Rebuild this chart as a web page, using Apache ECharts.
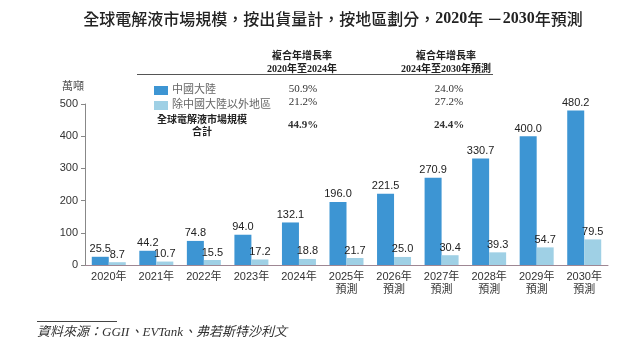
<!DOCTYPE html>
<html lang="zh-Hant"><head><meta charset="utf-8">
<script src="https://cdn.jsdelivr.net/npm/echarts@6/dist/echarts.min.js"></script>
<style>html,body{margin:0;padding:0;background:#fff}#c{width:640px;height:357px}</style>
</head><body><div id="c"></div>
<script>
const categories = ['2020年','2021年','2022年','2023年','2024年','2025年\n預測','2026年\n預測','2027年\n預測','2028年\n預測','2029年\n預測','2030年\n預測'];
const chinaMainland = [25.5,44.2,74.8,94.0,132.1,196.0,221.5,270.9,330.7,400.0,480.2];
const outsideChina = [8.7,10.7,15.5,17.2,18.8,21.7,25.0,30.4,39.3,54.7,79.5];
const seriesNames = ['中國大陸','除中國大陸以外地區'];
const cagrHeaders = ['複合年增長率\n2020年至2024年','複合年增長率\n2024年至2030年預測'];
const cagr2020_2024 = ['50.9%','21.2%','44.9%'];
const cagr2024_2030 = ['24.0%','27.2%','24.4%'];
const totalLabel = '全球電解液市場規模\n合計';
const yTicks = [0,100,200,300,400,500];
const titleText = '全球電解液市場規模，按出貨量計，按地區劃分，2020年 －2030年預測';
const unitText = '萬噸';
const sourceText = '資料來源：GGII、EVTank、弗若斯特沙利文';

const DARK = '#3d95d3', LIGHT = '#9fd0e5';
const serifCJK = "'Liberation Serif','Noto Sans CJK TC',serif";
const sansCJK = "'Liberation Sans','Noto Sans CJK TC',sans-serif";

// title as rich text: digits bold serif, CJK regular
const titleRich = titleText.replace(/(\d+)/g, '{d|$1}').split(/(\{d\|\d+\})/).map(s => s.startsWith('{d|') ? s : (s ? '{c|' + s + '}' : '')).join('');

const chart = echarts.init(document.getElementById('c'), null, {renderer:'canvas'});
const rowY = [89, 102, 125];
const graphics = [
  {type:'text', x:333, y:11, style:{text:titleRich, align:'center',
    rich:{c:{fontSize:16, fontFamily:"'Noto Sans CJK TC',sans-serif", fontWeight:500, fill:'#222', color:'#222'},
          d:{fontSize:16, fontFamily:"'Liberation Serif',serif", fontWeight:'bold', fill:'#222', color:'#222'}}}},
  {type:'text', x:62, y:82, style:{text:unitText, font:"11px "+serifCJK, fill:'#555'}},
  {type:'line', shape:{x1:137,y1:74.5,x2:493,y2:74.5}, style:{stroke:'#555',lineWidth:1}},
  {type:'text', x:302, y:50, style:{text:cagrHeaders[0], font:"bold 10px "+serifCJK, fill:'#222', align:'center', lineHeight:13}},
  {type:'text', x:446, y:50, style:{text:cagrHeaders[1], font:"bold 10px "+serifCJK, fill:'#222', align:'center', lineHeight:13}},
  {type:'text', x:202, y:114, style:{text:totalLabel, font:"bold 10px "+serifCJK, fill:'#222', align:'center', lineHeight:12}},
  {type:'line', shape:{x1:37,y1:321.5,x2:117,y2:321.5}, style:{stroke:'#444',lineWidth:1}},
  {type:'text', x:37, y:326, style:{text:sourceText, font:"italic 13px "+serifCJK, fill:'#333'}}
];
cagr2020_2024.forEach((v,i)=>graphics.push({type:'text', x:303, y:rowY[i], style:{text:v, font:(i===2?'bold ':'')+"11px "+serifCJK, fill:'#333', align:'center', verticalAlign:'middle'}}));
cagr2024_2030.forEach((v,i)=>graphics.push({type:'text', x:449, y:rowY[i], style:{text:v, font:(i===2?'bold ':'')+"11px "+serifCJK, fill:'#333', align:'center', verticalAlign:'middle'}}));

chart.setOption({
  animation:false,
  backgroundColor:'#fff',
  graphic: graphics,
  legend:{
    orient:'vertical', left:149, top:80, itemWidth:14, itemHeight:9, itemGap:4,
    icon:'rect',
    textStyle:{fontSize:11, color:'#666', fontFamily:serifCJK, padding:[0,0,0,-1]},
    data:seriesNames
  },
  grid:{left:85, right:32, top:104, bottom:92},
  xAxis:{
    type:'category', data:categories,
    axisLine:{lineStyle:{color:'#9e8793', width:1}},
    axisTick:{show:false},
    axisLabel:{fontSize:11, color:'#333', fontFamily:sansCJK, lineHeight:13, margin:5, interval:0}
  },
  yAxis:{
    type:'value', min:0, max:500, interval:100,
    axisLine:{show:true, lineStyle:{color:'#888'}},
    axisTick:{show:true, length:4, lineStyle:{color:'#888'}},
    splitLine:{show:false},
    axisLabel:{fontSize:11, color:'#333', fontFamily:sansCJK, margin:7}
  },
  series:[
    {name:seriesNames[0], type:'bar', data:chinaMainland, barWidth:17, barGap:'0%',
     itemStyle:{color:DARK},
     label:{show:true, position:'top', distance:2, fontSize:11, color:'#222', fontFamily:sansCJK, formatter:p=>p.value.toFixed(1)}},
    {name:seriesNames[1], type:'bar', data:outsideChina, barWidth:17,
     itemStyle:{color:LIGHT},
     label:{show:true, position:'top', distance:2, fontSize:11, color:'#222', fontFamily:sansCJK, formatter:p=>p.value.toFixed(1)}}
  ]
});
</script></body></html>
